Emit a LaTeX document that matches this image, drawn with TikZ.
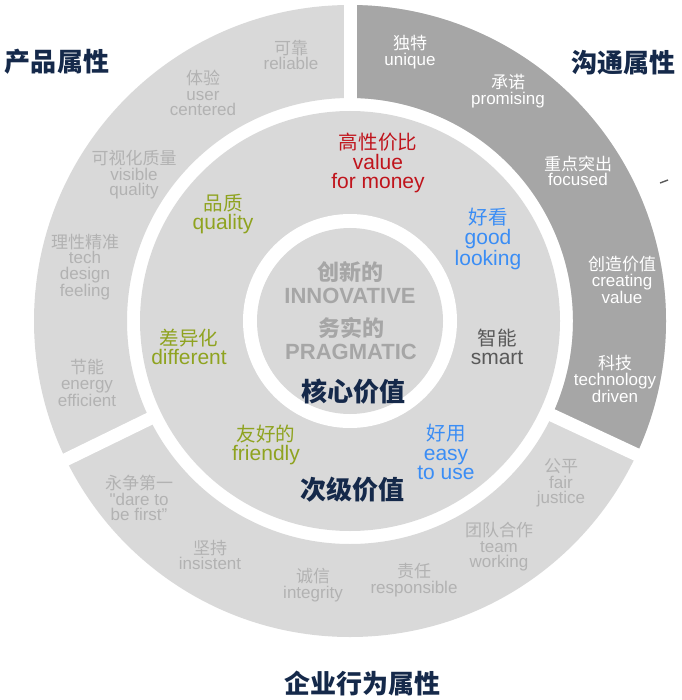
\documentclass[tikz,border=0pt]{standalone}
\usepackage{fontspec}
\usepackage{xcolor}
\setmainfont{Liberation Sans}
\newfontfamily\cjk{Noto Sans CJK SC}
\newfontfamily\cjkmid[Scale=0.93]{Noto Sans CJK SC}
\newfontfamily\cjkhead{Noto Sans CJK SC}

\definecolor{ringgray}{HTML}{D9D9D9}
\definecolor{darkring}{HTML}{A6A6A6}
\definecolor{softtext}{HTML}{B2B2B2}
\definecolor{coretext}{HTML}{A6A6A6}
\definecolor{navy}{HTML}{15294A}
\definecolor{valred}{HTML}{C0141C}
\definecolor{olive}{HTML}{8FA320}
\definecolor{skyblue}{HTML}{3A8DF5}
\definecolor{smartgray}{HTML}{595959}

\newcommand{\zh}[1]{{\cjk #1}}
\newcommand{\zm}[1]{{\cjkmid #1}}

\tikzset{
  outeritem/.style={align=center, text=softtext, inner sep=0pt,
    font=\fontsize{17}{15.5}\selectfont},
  commitem/.style={outeritem, text=white},
  miditem/.style={align=center, inner sep=0pt,
    font=\fontsize{21}{19.5}\selectfont},
  coreitem/.style={align=center, text=coretext, inner sep=0pt,
    font=\bfseries\fontsize{22}{23}\selectfont},
  heading/.style={text=navy, inner sep=0pt,
    font=\cjkhead\bfseries\fontsize{26}{28}\selectfont},
  gapline/.style={white, line width=13pt}
}

\begin{document}
\begin{tikzpicture}[x=1pt,y=-1pt]
\useasboundingbox (0,0) rectangle (681,700);

\begin{scope}[shift={(350,321)}]
% outer ring: three attribute groups
\fill[ringgray, even odd rule] (0,0) circle (316) (0,0) circle (223);
\fill[darkring] (-90:316) arc[start angle=-90, end angle=25, radius=316]
  -- (25:223) arc[start angle=25, end angle=-90, radius=223] -- cycle;
\foreach \a in {-90,25,154}
  \draw[gapline] (\a:215) -- (\a:330);

% secondary values disk
\fill[ringgray] (0,0) circle (210);
\fill[white] (0,0) circle (107);

% core values disk
\fill[ringgray] (0,0) circle (93);
\end{scope}

% small mark at right
\draw[smartgray, line width=1.4pt] (660,183) -- (668,180);

% product attributes
\node[outeritem] (reliable) at (291,55) {\zh{可靠}\\reliable};
\node[outeritem] (usercentered) at (203,93) {\zh{体验}\\user\\centered};
\node[outeritem] (visiblequality) at (134,175) {\zh{可视化质量}\\visible\\quality};
\node[outeritem] (techdesign) at (85,267) {\zh{理性精准}\\tech\\design\\feeling};
\node[outeritem] (energy) at (87,383) {\zh{节能}\\energy\\efficient};

% communication attributes
\node[commitem] (unique) at (410,52) {\zh{独特}\\unique};
\node[commitem] (promising) at (508,91) {\zh{承诺}\\promising};
\node[commitem] (focused) at (578,171) {\zh{重点突出}\\focused};
\node[commitem] (creating) at (622,280) {\zh{创造价值}\\creating\\value};
\node[commitem] (technology) at (615,379) {\zh{科技}\\technology\\driven};

% enterprise behaviour attributes
\node[outeritem] (darefirst) at (139,498) {\zh{永争第一}\\\textquotedbl dare to\\be first''};
\node[outeritem] (insistent) at (210,555) {\zh{坚持}\\insistent};
\node[outeritem] (integrity) at (313,585) {\zh{诚信}\\integrity};
\node[outeritem] (responsible) at (414,580) {\zh{责任}\\responsible};
\node[outeritem] (teamwork) at (499,547) {\zh{团队合作}\\team\\working};
\node[outeritem] (justice) at (561,483) {\zh{公平}\\fair\\justice};

% secondary values
\node[miditem, text=valred] (valuemoney) at (378,163) {\zm{高性价比}\\value\\for money};
\node[miditem, text=olive] (quality) at (223,214) {\zm{品质}\\quality};
\node[miditem, text=skyblue] (goodlooking) at (488,239) {\zm{好看}\\good\\looking};
\node[miditem, text=smartgray] (smart) at (497,347) {\zm{智能}\\smart};
\node[miditem, text=olive] (different) at (189,347) {\zm{差异化}\\different};
\node[miditem, text=olive] (friendly) at (266,445) {\zm{友好的}\\friendly};
\node[miditem, text=skyblue] (easyuse) at (446,452) {\zm{好用}\\easy\\to use};

% core values
\node[coreitem] (innovative) at (350,283) {{\cjkhead 创新的}\\INNOVATIVE};
\node[coreitem] (pragmatic) at (351,339) {{\cjkhead 务实的}\\PRAGMATIC};

% group headings
\node[heading] (corehead) at (353,392) {核心价值};
\node[heading] (secondhead) at (352,490) {次级价值};
\node[heading] (producthead) at (57,62) {产品属性};
\node[heading] (commhead) at (623,63) {沟通属性};
\node[heading] (enterprisehead) at (362,683) {企业行为属性};
\end{tikzpicture}
\end{document}
